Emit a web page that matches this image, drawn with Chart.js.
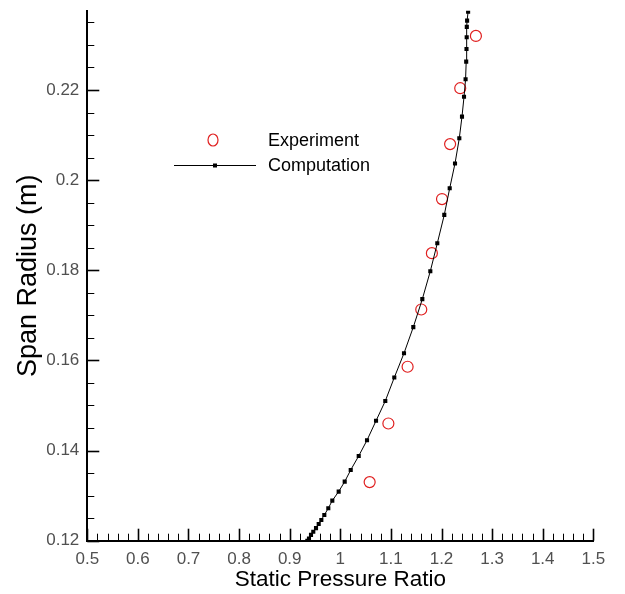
<!DOCTYPE html>
<html>
<head>
<meta charset="utf-8">
<script src="https://cdn.jsdelivr.net/npm/chart.js@4.4.1/dist/chart.umd.min.js"></script>
<style>
  html, body { margin: 0; padding: 0; background: #ffffff; }
  canvas { display: block; }
</style>
</head>
<body>
<canvas id="presionChart" width="625" height="594"></canvas>
<script>
// Datos
const xTicks = [0.5, 0.6, 0.7, 0.8, 0.9, 1, 1.1, 1.2, 1.3, 1.4, 1.5];
const yTicks = [0.12, 0.14, 0.16, 0.18, 0.2, 0.22];

const expPressure = [1.058, 1.095, 1.133, 1.160, 1.181, 1.201, 1.217, 1.237, 1.268];
const expRadius = [0.1330, 0.1460, 0.1586, 0.1713, 0.1838, 0.1958, 0.2080, 0.2204, 0.2320];

const compPressure = [
  0.9348, 0.9381, 0.9421, 0.9466, 0.9520, 0.9573, 0.9625, 0.9684, 0.9763, 0.9842,
  0.9968, 1.0087, 1.0206, 1.0364, 1.0528, 1.0706, 1.0889, 1.1067, 1.1259, 1.1443,
  1.1621, 1.1779, 1.1917, 1.2055, 1.2162, 1.2267, 1.2352, 1.2405, 1.2445, 1.2476,
  1.2488, 1.2494, 1.2498, 1.2500, 1.2506, 1.2526
];
const compRadius = [
  0.1200, 0.1205, 0.1213, 0.1220, 0.1228, 0.1237, 0.1246, 0.1257, 0.1272, 0.1289,
  0.1309, 0.1331, 0.1357, 0.1388, 0.1423, 0.1466, 0.1510, 0.1562, 0.1616, 0.1674,
  0.1736, 0.1798, 0.1860, 0.1923, 0.1982, 0.2037, 0.2093, 0.2141, 0.2185, 0.2224,
  0.2263, 0.2291, 0.2317, 0.2340, 0.2354, 0.2374
];

const labels = ['Experiment', 'Computation'];
const fontFamily = '"Liberation Sans", Arial, Helvetica, sans-serif';

const toPoints = (xs, ys) => xs.map((x, i) => ({ x, y: ys[i] }));

// Marcas de los ejes hacia adentro (estilo Tecplot)
const insideTicks = {
  id: 'insideTicks',
  afterDraw(chart) {
    const { ctx, scales: { x, y } } = chart;
    const x0 = x.left, y0 = y.bottom;
    ctx.save();
    ctx.strokeStyle = '#000';

    const drawTick = (px, py, dx, dy, w) => {
      ctx.lineWidth = w;
      ctx.beginPath();
      ctx.moveTo(px, py);
      ctx.lineTo(px + dx, py + dy);
      ctx.stroke();
    };

    // eje x: menores cada 0.02
    for (let i = 0; i <= 50; i++) {
      const v = 0.5 + i * 0.02;
      const px = Math.round(x.getPixelForValue(v)) + 0.5;
      const major = i % 5 === 0;
      drawTick(px, y0, 0, major ? -12 : -7, major ? 1.6 : 1);
    }
    // eje y: menores cada 0.005
    for (let i = 0; i <= 23; i++) {
      const v = 0.12 + i * 0.005;
      const py = Math.round(y.getPixelForValue(v)) + 0.5;
      const major = i % 4 === 0;
      drawTick(x0, py, major ? 12 : 7, 0, major ? 1.6 : 1);
    }
    ctx.restore();
  }
};

// Leyenda dentro del area de la grafica
const insideLegend = {
  id: 'insideLegend',
  afterDraw(chart) {
    const { ctx } = chart;
    ctx.save();
    ctx.font = '18px ' + fontFamily;
    ctx.fillStyle = '#000';
    ctx.textBaseline = 'middle';
    ctx.textAlign = 'left';

    // Experimento
    ctx.strokeStyle = '#e02020';
    ctx.lineWidth = 1.2;
    ctx.beginPath();
    ctx.ellipse(213, 140, 5, 6, 0, 0, Math.PI * 2);
    ctx.stroke();
    ctx.fillText(labels[0], 268, 141);

    // Computacion
    ctx.strokeStyle = '#000';
    ctx.lineWidth = 1;
    ctx.beginPath();
    ctx.moveTo(174, 165.5);
    ctx.lineTo(256, 165.5);
    ctx.stroke();
    ctx.fillRect(213, 163.5, 4, 4);
    ctx.fillText(labels[1], 268, 166);
    ctx.restore();
  }
};

const canvasElement = document.getElementById('presionChart');

new Chart(canvasElement, {
  type: 'scatter',
  data: {
    datasets: [
      {
        label: labels[1],
        data: toPoints(compPressure, compRadius),
        showLine: true,
        borderColor: '#000',
        borderWidth: 1,
        tension: 0,
        pointStyle: 'rect',
        pointRadius: 2.9,
        pointBackgroundColor: '#000',
        pointBorderWidth: 0,
      },
      {
        label: labels[0],
        data: toPoints(expPressure, expRadius),
        showLine: false,
        pointStyle: 'circle',
        pointRadius: 5.5,
        pointBackgroundColor: 'rgba(0,0,0,0)',
        pointBorderColor: '#e02020',
        pointBorderWidth: 1.2,
      },
    ],
  },
  options: {
    responsive: false,
    animation: false,
    events: [],
    layout: {
      padding: { left: 0, right: 31.7, top: 10.7, bottom: 0 },
    },
    plugins: {
      legend: { display: false },
      tooltip: { enabled: false },
      title: { display: false },
    },
    scales: {
      x: {
        type: 'linear',
        min: 0.5,
        max: 1.5,
        afterBuildTicks: (scale) => { scale.ticks = xTicks.map((v) => ({ value: v })); },
        afterFit: (scale) => { scale.height = 53.3; },
        grid: { display: false, drawTicks: false },
        border: { display: true, color: '#000', width: 2 },
        ticks: {
          autoSkip: false,
          maxRotation: 0,
          padding: 8,
          color: '#505050',
          font: { family: fontFamily, size: 17 },
          callback: (v) => String(v),
        },
        title: {
          display: true,
          text: 'Static Pressure Ratio',
          color: '#000',
          font: { family: fontFamily, size: 22.5 },
          padding: { top: 0, bottom: 1 },
        },
      },
      y: {
        type: 'linear',
        min: 0.12,
        max: 0.2376,
        afterBuildTicks: (scale) => { scale.ticks = yTicks.map((v) => ({ value: v })); },
        afterFit: (scale) => {
          scale.width = 87.3;
          scale.paddingTop = 0;
          scale.paddingBottom = 0;
        },
        grid: { display: false, drawTicks: false },
        border: { display: true, color: '#000', width: 2 },
        ticks: {
          autoSkip: false,
          padding: 8,
          color: '#505050',
          font: { family: fontFamily, size: 17 },
          callback: (v) => String(v),
        },
        title: {
          display: true,
          text: 'Span Radius (m)',
          color: '#000',
          font: { family: fontFamily, size: 27 },
          padding: { top: 12, bottom: 0 },
        },
      },
    },
  },
  plugins: [insideTicks, insideLegend],
});
</script>
</body>
</html>
